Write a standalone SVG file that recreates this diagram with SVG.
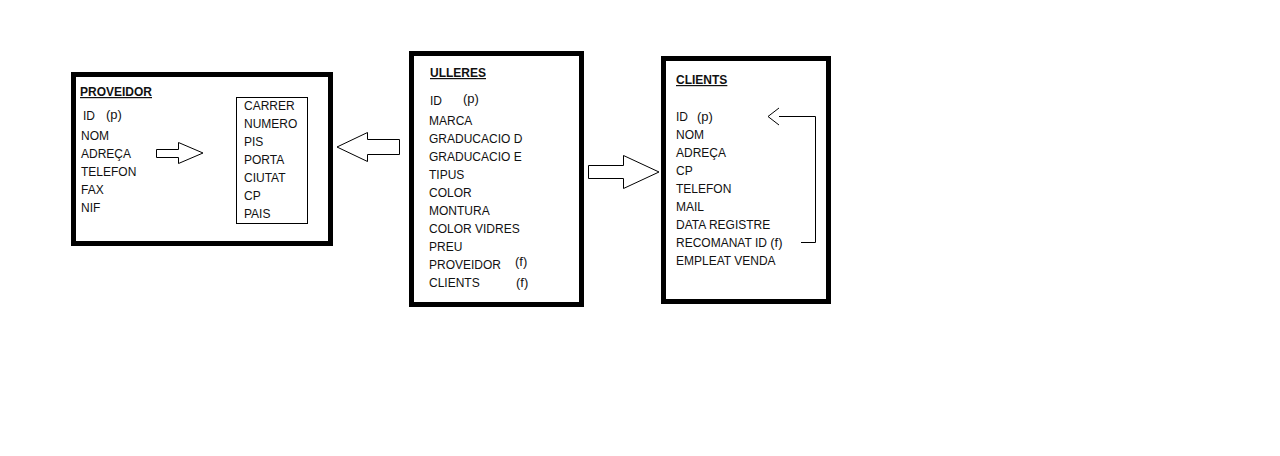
<svg xmlns="http://www.w3.org/2000/svg" width="1280" height="456" viewBox="0 0 1280 456">
<style>
.box{fill:#fff;stroke:#000;stroke-width:5}
.inner{fill:none;stroke:#000;stroke-width:1}
.arrow{fill:#fff;stroke:#000;stroke-width:1}
.t{font-family:"Liberation Sans",Arial,sans-serif;font-size:12px;fill:#111}
.p{font-family:"Liberation Sans",Arial,sans-serif;font-size:13px;fill:#111}
.h{font-family:"Liberation Sans",Arial,sans-serif;font-size:12px;font-weight:bold;fill:#111;text-decoration:underline}
.line{fill:none;stroke:#000;stroke-width:1}
</style>
<rect width="1280" height="456" fill="#fff"/>
<g id="proveidor">
<rect class="box" x="73.5" y="74.5" width="257" height="169"/>
<text class="h" x="80" y="96">PROVEIDOR</text>
<text class="t" x="83" y="120">ID</text><text class="p" x="106" y="119">(p)</text>
<text class="t" x="81" y="140">NOM</text>
<text class="t" x="81" y="158">ADREÇA</text>
<text class="t" x="81" y="176">TELEFON</text>
<text class="t" x="81" y="194">FAX</text>
<text class="t" x="81" y="212">NIF</text>
<rect class="inner" x="236.5" y="97.5" width="71" height="126"/>
<text class="t" x="244" y="110">CARRER</text>
<text class="t" x="244" y="128">NUMERO</text>
<text class="t" x="244" y="146">PIS</text>
<text class="t" x="244" y="164">PORTA</text>
<text class="t" x="244" y="182">CIUTAT</text>
<text class="t" x="244" y="200">CP</text>
<text class="t" x="244" y="218">PAIS</text>
</g>
<g id="ulleres">
<rect class="box" x="411.5" y="53.5" width="170" height="251"/>
<text class="h" x="430" y="77">ULLERES</text>
<text class="t" x="430" y="105">ID</text><text class="p" x="463" y="103">(p)</text>
<text class="t" x="429" y="125">MARCA</text>
<text class="t" x="429" y="143">GRADUCACIO D</text>
<text class="t" x="429" y="161">GRADUCACIO E</text>
<text class="t" x="429" y="179">TIPUS</text>
<text class="t" x="429" y="197">COLOR</text>
<text class="t" x="429" y="215">MONTURA</text>
<text class="t" x="429" y="233">COLOR VIDRES</text>
<text class="t" x="429" y="251">PREU</text>
<text class="t" x="429" y="269">PROVEIDOR</text><text class="p" x="515" y="266">(f)</text>
<text class="t" x="429" y="287">CLIENTS</text><text class="p" x="516" y="287">(f)</text>
</g>
<g id="clients">
<rect class="box" x="663.5" y="58.5" width="165" height="243"/>
<text class="h" x="676" y="84">CLIENTS</text>
<text class="t" x="676" y="121">ID</text><text class="p" x="697" y="121">(p)</text>
<text class="t" x="676" y="139">NOM</text>
<text class="t" x="676" y="157">ADREÇA</text>
<text class="t" x="676" y="175">CP</text>
<text class="t" x="676" y="193">TELEFON</text>
<text class="t" x="676" y="211">MAIL</text>
<text class="t" x="676" y="229">DATA REGISTRE</text>
<text class="t" x="676" y="247">RECOMANAT ID <tspan class="p">(f)</tspan></text>
<text class="t" x="676" y="265">EMPLEAT VENDA</text>
</g>
<g id="connectors">
<polygon class="arrow" points="156.5,149.5 178.5,149.5 178.5,142.5 203,153 178.5,163.5 178.5,157.5 156.5,157.5"/>
<polygon class="arrow" points="399.5,139.5 367.5,139.5 367.5,132.5 337,147 367.5,161.5 367.5,154.5 399.5,154.5"/>
<polygon class="arrow" points="588.5,165.5 623.5,165.5 623.5,155.5 659,172 623.5,188.5 623.5,178.5 588.5,178.5"/>
<polyline class="line" points="801,242.5 815.5,242.5 815.5,116.5 779,116.5"/>
<polyline class="line" points="779,108 768,116.5 779,125"/>
</g>
</svg>
